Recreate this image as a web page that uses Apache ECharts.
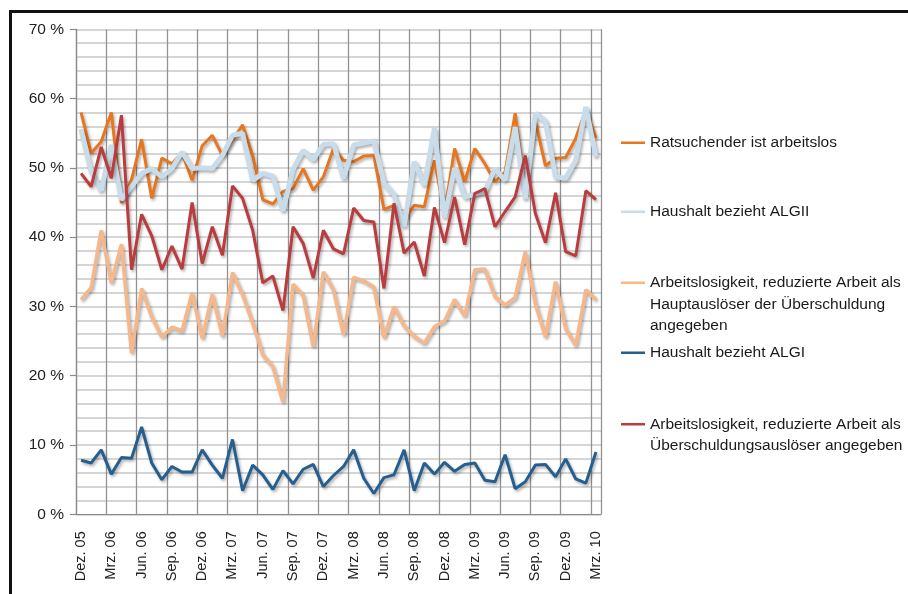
<!DOCTYPE html>
<html>
<head>
<meta charset="utf-8">
<script src="https://cdn.jsdelivr.net/npm/echarts@6/dist/echarts.min.js"></script>
<style>
html,body{margin:0;padding:0;background:#fff;}
#chart{width:908px;height:594px;}
</style>
</head>
<body>
<div id="chart"></div>
<script>
var categories = [
  "Dez. 05","Jan. 06","Feb. 06","Mrz. 06","Apr. 06","Mai. 06","Jun. 06","Jul. 06","Aug. 06","Sep. 06","Okt. 06","Nov. 06",
  "Dez. 06","Jan. 07","Feb. 07","Mrz. 07","Apr. 07","Mai. 07","Jun. 07","Jul. 07","Aug. 07","Sep. 07","Okt. 07","Nov. 07",
  "Dez. 07","Jan. 08","Feb. 08","Mrz. 08","Apr. 08","Mai. 08","Jun. 08","Jul. 08","Aug. 08","Sep. 08","Okt. 08","Nov. 08",
  "Dez. 08","Jan. 09","Feb. 09","Mrz. 09","Apr. 09","Mai. 09","Jun. 09","Jul. 09","Aug. 09","Sep. 09","Okt. 09","Nov. 09",
  "Dez. 09","Jan. 10","Feb. 10","Mrz. 10"
];

var seriesNames = [
  "Ratsuchender ist arbeitslos",
  "Haushalt bezieht ALGII",
  "Arbeitslosigkeit, reduzierte Arbeit als Hauptauslöser der Überschuldung angegeben",
  "Haushalt bezieht ALGI",
  "Arbeitslosigkeit, reduzierte Arbeit als Überschuldungsauslöser angegeben"
];

var legendLabels = [
  "Ratsuchender ist arbeitslos",
  "Haushalt bezieht ALGII",
  "\n\nArbeitslosigkeit, reduzierte Arbeit als\nHauptauslöser der Überschuldung\nangegeben",
  "Haushalt bezieht ALGI",
  "\nArbeitslosigkeit, reduzierte Arbeit als\nÜberschuldungsauslöser angegeben"
];

var arbeitslos = [58.0,52.1,53.8,58.0,44.9,48.3,54.1,45.6,51.4,50.6,52.2,48.2,
  53.2,54.7,51.8,54.0,56.2,51.8,45.4,44.8,46.6,47.0,49.9,46.8,
  48.7,52.8,51.1,50.9,51.7,51.8,44.0,44.6,42.5,44.6,44.4,51.1,
  43.5,52.8,48.0,52.8,50.6,48.0,49.4,57.9,46.5,56.7,50.3,51.4,
  51.5,54.3,58.4,54.3];

var algII = [55.6,49.5,46.7,53.3,45.4,47.3,49.2,49.9,48.7,49.9,52.3,49.9,
  50.0,49.9,51.8,54.7,55.0,48.2,49.2,48.8,43.8,49.8,52.5,51.2,
  53.4,53.5,48.5,53.3,53.6,53.9,47.8,46.1,41.5,50.9,47.5,55.7,
  42.8,50.0,45.8,46.2,46.6,49.9,48.2,55.9,45.5,57.9,56.7,48.7,
  48.5,51.1,58.8,51.6];

var hauptausloeser = [31.0,32.7,41.0,33.4,39.0,23.3,32.6,28.5,25.6,27.0,26.5,32.0,
  25.4,31.8,25.7,34.9,31.7,27.6,23.0,21.3,16.2,33.2,31.6,24.2,
  35.0,32.4,25.9,34.2,33.7,32.8,25.5,30.0,27.2,25.7,24.7,27.1,
  27.9,31.0,28.6,35.3,35.4,31.4,30.2,31.3,37.9,30.4,25.6,33.6,
  26.8,24.4,32.4,31.0];

var algI = [7.8,7.4,9.3,5.8,8.2,8.1,12.6,7.4,5.0,6.9,6.1,6.1,
  9.3,7.1,5.2,10.8,3.4,7.1,5.7,3.6,6.3,4.4,6.5,7.2,
  4.0,5.6,6.9,9.3,5.2,3.0,5.3,5.7,9.3,3.4,7.4,5.8,
  7.5,6.2,7.2,7.4,4.9,4.7,8.6,3.7,4.7,7.1,7.2,5.4,
  8.0,5.1,4.5,9.0];

var ausloeser = [49.2,47.3,53.0,48.5,57.6,35.3,43.3,40.2,35.3,38.7,35.4,45.0,
  36.2,41.5,37.4,47.4,45.6,41.0,33.4,34.4,29.4,41.5,39.1,34.1,
  41.0,38.3,37.6,44.2,42.4,42.2,32.6,44.9,37.7,39.3,34.4,44.3,
  39.2,45.8,38.9,46.3,47.0,41.5,43.7,45.8,51.8,43.4,39.2,46.4,
  37.9,37.3,46.7,45.4];

var colors = ["#e8761e", "#c9dcea", "#f6b88a", "#245f8f", "#bb3c3e"];
var widths = [3, 5, 3.5, 3, 3];
var seriesData = [arbeitslos, algII, hauptausloeser, algI, ausloeser];
var legendTops = [132, 201, 229, 342, 392];

var FONT = "'Liberation Sans', Arial, sans-serif";

var chart = echarts.init(document.getElementById('chart'));

var series = seriesNames.map(function (name, k) {
  return {
    name: name,
    type: 'line',
    data: seriesData[k],
    symbol: 'none',
    z: 2 + k,
    color: colors[k],
    lineStyle: {
      color: colors[k],
      width: widths[k],
      shadowColor: 'rgba(0,0,0,0.32)',
      shadowBlur: 3,
      shadowOffsetX: 1.5,
      shadowOffsetY: 2
    },
    emphasis: { disabled: true },
    animation: false
  };
});

var legends = seriesNames.map(function (name, k) {
  return {
    data: [name],
    left: 621,
    top: legendTops[k],
    orient: 'vertical',
    padding: 0,
    icon: 'rect',
    itemWidth: 24,
    itemHeight: 2.5,
    selectedMode: false,
    formatter: function () { return legendLabels[k]; },
    textStyle: {
      fontFamily: FONT,
      fontSize: 15.5,
      lineHeight: 21.5,
      color: '#1a1a1a'
    }
  };
});

chart.setOption({
  backgroundColor: '#ffffff',
  animation: false,
  grid: { left: 76, top: 29.3, width: 525, height: 485 },
  legend: legends,
  xAxis: {
    type: 'category',
    data: categories,
    boundaryGap: true,
    axisLine: { lineStyle: { color: '#8a8a8a', width: 1.2 } },
    axisTick: { show: false },
    axisLabel: {
      interval: 2,
      rotate: 90,
      margin: 17,
      fontFamily: FONT,
      fontSize: 14.5,
      color: '#222'
    },
    splitLine: {
      show: true,
      interval: 2,
      lineStyle: { color: '#939393', width: 1.3 }
    }
  },
  yAxis: {
    type: 'value',
    min: 0,
    max: 70,
    interval: 10,
    axisLine: { show: true, lineStyle: { color: '#8a8a8a', width: 1.2 } },
    axisTick: { show: true, length: 6, lineStyle: { color: '#8a8a8a', width: 1.2 } },
    axisLabel: {
      formatter: '{value} %',
      margin: 12,
      fontFamily: FONT,
      fontSize: 15.5,
      color: '#222'
    },
    splitLine: { show: true, lineStyle: { color: '#c8c8c8', width: 1.5 } },
    minorTick: { show: false, splitNumber: 5 },
    minorSplitLine: { show: true, lineStyle: { color: '#c8c8c8', width: 1.5 } }
  },
  graphic: [
    { type: 'line', shape: { x1: 9, y1: 11.5, x2: 908, y2: 11.5 }, style: { stroke: '#111', lineWidth: 3 }, silent: true },
    { type: 'line', shape: { x1: 10.5, y1: 10, x2: 10.5, y2: 594 }, style: { stroke: '#111', lineWidth: 3 }, silent: true }
  ],
  series: series
});
</script>
</body>
</html>
